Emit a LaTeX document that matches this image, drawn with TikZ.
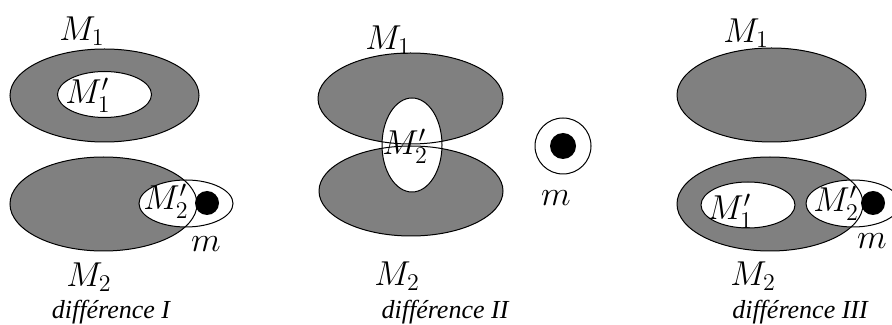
\documentclass[tikz,border=0pt]{standalone}
\usepackage{fontspec}
\newfontfamily\capfont{Liberation Serif}[ItalicFont={Liberation Serif Italic}]
\begin{document}
\begin{tikzpicture}[
  x=0.5pt, y=-0.5pt,
  mass/.style={fill=gray},
  hole/.style={fill=white},
  rim/.style={draw=black, line width=0.5pt},
  dot/.style={fill=black},
  lab/.style={font=\fontsize{16.5}{18}\selectfont, inner sep=0pt},
  caption/.style={font=\fontsize{13}{15}\selectfont\capfont\itshape, anchor=base, inner sep=0pt}
]
\useasboundingbox (0,0) rectangle (892,325);

% difference I
\path[mass] (104.5,95.5) ellipse [x radius=94.5, y radius=46.5];
\path[mass] (103.5,204) ellipse [x radius=93.5, y radius=47];
\path[hole] (104.5,94.5) ellipse [x radius=47, y radius=23];
\path[hole] (186,203.5) ellipse [x radius=47, y radius=23.5];
\path[rim] (104.5,95.5) ellipse [x radius=94.5, y radius=46.5];
\path[rim] (103.5,204) ellipse [x radius=93.5, y radius=47];
\path[rim] (104.5,94.5) ellipse [x radius=47, y radius=23];
\path[rim] (186,203.5) ellipse [x radius=47, y radius=23.5];
\path[dot] (207,203) circle [radius=12];
\node[lab] (M1a) at (82,31) {$M_1$};
\node[lab] (M1pa) at (88,95) {$M'_1$};
\node[lab] (M2pa) at (166,201) {$M'_2$};
\node[lab] (ma) at (206,244) {$m$};
\node[lab] (M2a) at (89,277) {$M_2$};
\node[caption] (capa) at (111,318) {différence I};

% difference II
\path[mass] (410.5,98.5) ellipse [x radius=92.5, y radius=45.5];
\path[mass] (411,191) ellipse [x radius=92, y radius=45];
\path[hole] (412,145) ellipse [x radius=30, y radius=47];
\path[hole] (563,146) circle [radius=28];
\path[rim] (410.5,98.5) ellipse [x radius=92.5, y radius=45.5];
\path[rim] (411,191) ellipse [x radius=92, y radius=45];
\path[rim] (412,145) ellipse [x radius=30, y radius=47];
\path[rim] (563,146) circle [radius=28];
\path[dot] (563,146) circle [radius=13];
\node[lab] (M1b) at (388,40) {$M_1$};
\node[lab] (M2pb) at (405,146) {$M'_2$};
\node[lab] (mb) at (556,198) {$m$};
\node[lab] (M2b) at (397,276) {$M_2$};
\node[caption] (capb) at (445,318) {différence II};

% difference III
\path[mass] (771.5,95) ellipse [x radius=94.5, y radius=47];
\path[mass] (770,204) ellipse [x radius=93, y radius=47];
\path[hole] (748,205) ellipse [x radius=47, y radius=23];
\path[hole] (853,203.5) ellipse [x radius=47, y radius=23.5];
\path[rim] (771.5,95) ellipse [x radius=94.5, y radius=47];
\path[rim] (770,204) ellipse [x radius=93, y radius=47];
\path[rim] (748,205) ellipse [x radius=47, y radius=23];
\path[rim] (853,203.5) ellipse [x radius=47, y radius=23.5];
\path[dot] (873,203) circle [radius=12];
\node[lab] (M1c) at (746,33) {$M_1$};
\node[lab] (M1pc) at (730,211) {$M'_1$};
\node[lab] (M2pc) at (836,203) {$M'_2$};
\node[lab] (mc) at (872,241) {$m$};
\node[lab] (M2c) at (753,276) {$M_2$};
\node[caption] (capc) at (800,318) {différence III};
\end{tikzpicture}
\end{document}
